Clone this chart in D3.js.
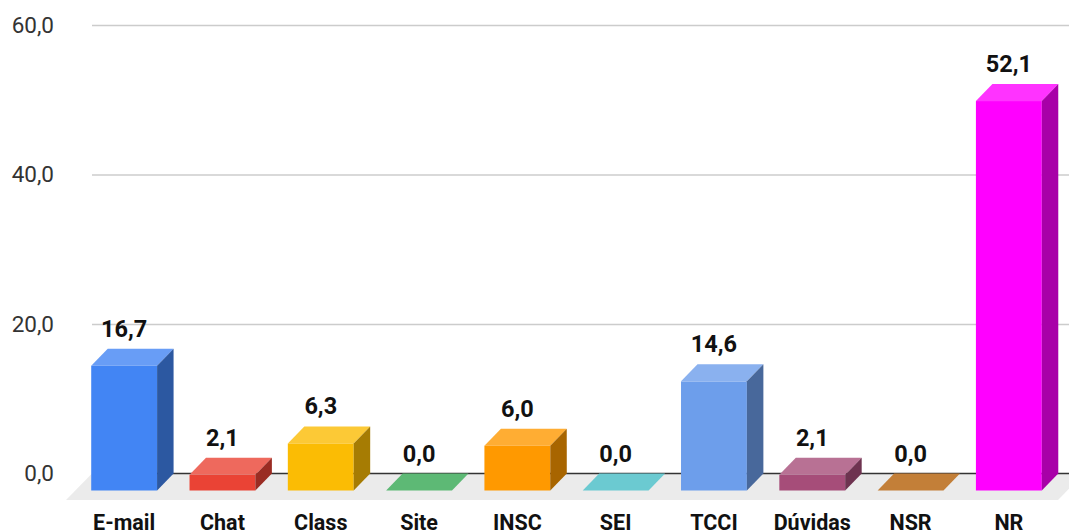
<html>
<head>
	<meta charset="utf-8">
	<style>
		body{margin:0;background:#fff;}
		text{font-family:Roboto, "Noto Sans", sans-serif;}
	</style>
</head>
<body>
	<script src="https://d3js.org/d3.v7.min.js"></script>
	<script>
const categories = ["E-mail","Chat","Class","Site","INSC","SEI","TCCI","Dúvidas","NSR","NR"];
const values = [16.7,2.1,6.3,0.0,6.0,0.0,14.6,2.1,0.0,52.1];
const barColors = ["#4285f4","#ea4335","#fbbc04","#34a853","#ff9900","#46bdc6","#6d9eeb","#a64d79","#b45f06","#ff00ff"];
const yTicks = [0,20,40,60];

var width = 1069, height = 532;
var dx = 16.5, dy = 17;   // 3d depth offset
var plotLeft = 92, plotRight = 1069, plotTop = 25, base = 473.5;

var svg = d3.select("body").append("svg")
	.attr("width", width).attr("height", height);

var x = d3.scaleBand()
	.domain(categories)
	.range([75, 1058])
	.paddingInner(0.33).paddingOuter(0.165);

var y = d3.scaleLinear()
	.domain([0, 60])
	.range([base, plotTop]);

var fmt = v => d3.format(".1f")(v).replace(".", ",");

// grid + y labels
var yAxis = svg.append("g")
	.attr("transform", `translate(${plotLeft},0)`)
	.call(d3.axisLeft(y).tickValues(yTicks).tickSize(-(plotRight-plotLeft)).tickPadding(38).tickFormat(fmt));
yAxis.select(".domain").remove();
yAxis.selectAll("line").attr("stroke", "#cccccc").attr("stroke-width", 1.3);
yAxis.selectAll("text").attr("font-size", 22.5).attr("fill", "#333").attr("font-family", "Roboto");

// floor
svg.append("polygon")
	.attr("points", [[plotLeft, base], [plotRight + 15, base], [1058, 500], [66, 500]].join(" "))
	.attr("fill", "#ebebeb");
svg.append("line")
	.attr("x1", plotLeft).attr("x2", plotRight)
	.attr("y1", base).attr("y2", base)
	.attr("stroke", "#333").attr("stroke-width", 1.3);

var lighter = c => d3.interpolateRgb(c, "#fff")(0.2);
var darker = c => { var r = d3.rgb(c); return d3.rgb(r.r*0.66, r.g*0.66, r.b*0.66).toString(); };

var bw = x.bandwidth();
var bars = svg.selectAll(".bar")
	.data(categories.map((c, i) => ({cat: c, val: values[i], color: barColors[i]})))
	.enter().append("g").classed("bar", true);

// front
bars.append("rect")
	.attr("x", d => x(d.cat))
	.attr("y", d => y(d.val) + dy)
	.attr("width", bw)
	.attr("height", d => base - y(d.val))
	.attr("fill", d => d.color);
// top
bars.append("polygon")
	.attr("points", d => {
		var x0 = x(d.cat), yt = y(d.val);
		return [[x0, yt + dy], [x0 + bw, yt + dy], [x0 + bw + dx, yt], [x0 + dx, yt]].join(" ");
	})
	.attr("fill", d => lighter(d.color));
// side
bars.filter(d => d.val > 0).append("polygon")
	.attr("points", d => {
		var x1 = x(d.cat) + bw, yt = y(d.val);
		return [[x1, yt + dy], [x1 + dx, yt], [x1 + dx, base], [x1, base + dy]].join(" ");
	})
	.attr("fill", d => darker(d.color));

// value labels
bars.append("text")
	.attr("x", d => x(d.cat) + bw / 2)
	.attr("y", d => y(d.val) - 12)
	.attr("text-anchor", "middle")
	.attr("font-size", 23.5).attr("font-weight", "bold").attr("fill", "#111")
	.text(d => fmt(d.val));

// category labels
var xAxis = svg.append("g")
	.attr("transform", `translate(0,511)`)
	.call(d3.axisBottom(x).tickSize(0).tickPadding(0));
xAxis.select(".domain").remove();
xAxis.selectAll("text")
	.attr("font-size", 21.5).attr("font-weight", "bold").attr("fill", "#111")
	.attr("font-family", "Roboto").attr("dy", "0.88em");
	</script>
</body>
</html>
